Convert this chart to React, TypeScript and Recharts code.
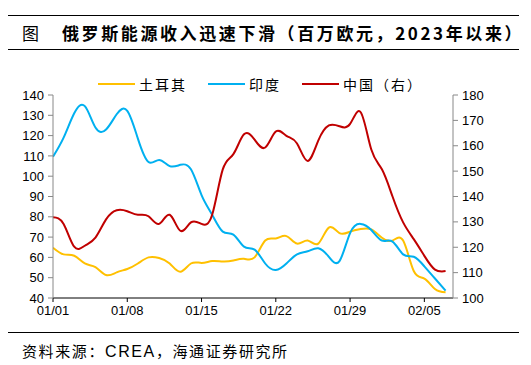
import { LineChart, Line, XAxis, YAxis, Legend } from "recharts";

// day index from 2023-01-01
const days = Array.from({ length: 38 }, (_, i) => i);
const dateLabels = ["01/01", "01/08", "01/15", "01/22", "01/29", "02/05"];

// 土耳其 (left axis)
const turkey = [
  64.8, 61.5, 60.8, 57, 55.2, 51.3, 52.6, 54.3, 57, 60,
  59.7, 57, 52.9, 57, 57.3, 58.2, 58, 58.5, 59.3, 60,
  68.3, 69.3, 70.5, 66.8, 68.3, 66.8, 74.7, 72, 72.7, 74,
  73.8, 69.7, 68.3, 68.3, 53.3, 49.6, 44.4, 42.8,
];
// 印度 (left axis)
const india = [
  109.6, 119, 131, 134.5, 124, 123, 130.5, 132.2, 118.5, 107,
  108, 105, 105.6, 103.4, 90.7, 81, 72.7, 71.2, 65.3, 63.8,
  57, 53.8, 57, 61.5, 63, 64.5, 60.3, 58.2, 72, 76.5,
  73.5, 68.3, 67.8, 61.5, 60.3, 55.6, 49.6, 43.6,
];
// 中国（右） (right axis)
const china = [
  131.8, 129.2, 120.2, 120.6, 123.8, 131, 134.6, 134.2, 132.8, 132.2,
  129.2, 132.8, 126.5, 129.8, 129.2, 132.8, 150.7, 156.7, 164.5, 162.4,
  159.3, 165.6, 163.9, 160.9, 154, 162, 168, 167.7, 168.6, 173.2,
  158.5, 150.7, 140, 129.8, 123.2, 116.6, 111.2, 110.6,
];

const leftTicks = [40, 50, 60, 70, 80, 90, 100, 110, 120, 130, 140];
const rightTicks = [100, 110, 120, 130, 140, 150, 160, 170, 180];

const seriesInfo = [
  { key: "turkey", name: "土耳其", color: "#FFC000" },
  { key: "india", name: "印度", color: "#00B0F0" },
  { key: "china", name: "中国（右）", color: "#C00000" },
];

const data = days.map((d, i) => ({ d, turkey: turkey[i], india: india[i], china: china[i] }));

const tickStyle = { fontSize: 13, fill: "#000", fontFamily: "Liberation Sans, Arial, sans-serif" };
const cjk = "'Noto Sans CJK SC', sans-serif";

function LegendContent() {
  return (
    <div style={{ display: "flex", alignItems: "center", fontFamily: cjk, fontSize: 14, color: "#000" }}>
      {seriesInfo.map((s, i) => (
        <div key={i} style={{ display: "flex", alignItems: "center", marginRight: 21 }}>
          <span style={{ display: "inline-block", width: 37, height: 2, background: s.color, marginRight: 4 }} />
          <span style={{ letterSpacing: 2 }}>{s.name}</span>
        </div>
      ))}
    </div>
  );
}

export default function App() {
  return (
    <div style={{ position: "absolute", left: 0, top: 0, width: 531, height: 365, background: "#fff" }}>
      <div style={{ position: "absolute", left: 8, top: 15, width: 511, height: 1.3, background: "#000" }} />
      <div
        style={{
          position: "absolute", left: 22, top: 22, fontFamily: cjk, fontSize: 17,
          color: "#000", whiteSpace: "nowrap", lineHeight: "22px",
        }}
      >
        <span>图</span>
        <span style={{ position: "absolute", left: 40, fontWeight: "bold", letterSpacing: 2.6 }}>
          俄罗斯能源收入迅速下滑（百万欧元，2023年以来）
        </span>
      </div>
      <div style={{ position: "absolute", left: 8, top: 49, width: 511, height: 1.3, background: "#000" }} />

      <LineChart width={531} height={365} data={data} margin={{ top: 75, right: 38, bottom: 37, left: 13 }}>
        <XAxis
          dataKey="d"
          type="number"
          domain={[0, 37.7]}
          ticks={[0, 7, 14, 21, 28, 35]}
          tickFormatter={(v: number) => dateLabels[v / 7]}
          tick={tickStyle}
          stroke="#000"
          tickSize={4}
          tickMargin={4}
          height={30}
          allowDataOverflow
        />
        <YAxis
          yAxisId="left"
          domain={[40, 140]}
          ticks={leftTicks}
          tick={tickStyle}
          stroke="#888"
          tickSize={5}
          tickMargin={4}
          width={40}
          interval={0}
        />
        <YAxis
          yAxisId="right"
          orientation="right"
          domain={[100, 180]}
          ticks={rightTicks}
          tick={tickStyle}
          stroke="#888"
          tickSize={5}
          tickMargin={4}
          width={40}
          interval={0}
        />
        <Legend
          verticalAlign="top"
          align="left"
          content={<LegendContent />}
          wrapperStyle={{ top: 74, left: 98, width: "auto" }}
        />
        {seriesInfo.map((s) => (
          <Line
            key={s.key}
            yAxisId={s.key === "china" ? "right" : "left"}
            type="natural"
            dataKey={s.key}
            name={s.name}
            stroke={s.color}
            strokeWidth={2}
            dot={false}
            isAnimationActive={false}
          />
        ))}
      </LineChart>

      <div style={{ position: "absolute", left: 8, top: 332, width: 511, height: 1.3, background: "#000" }} />
      <div
        style={{
          position: "absolute", left: 22, top: 341, fontFamily: cjk, fontSize: 15,
          color: "#000", whiteSpace: "nowrap", lineHeight: "20px", letterSpacing: 1.6,
        }}
      >
        资料来源：<span style={{ fontFamily: "Liberation Sans, Arial, sans-serif", fontSize: 16 }}>CREA</span>，海通证券研究所
      </div>
    </div>
  );
}
